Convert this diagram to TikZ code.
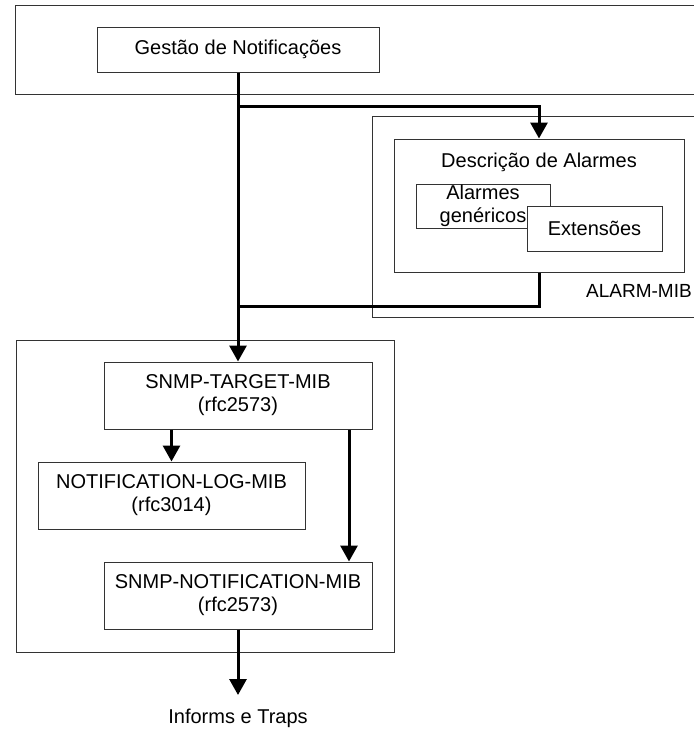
\documentclass[tikz,border=0pt]{standalone}
\usepackage{fontspec}
\setmainfont{Liberation Sans}
\usetikzlibrary{arrows.meta}
\tikzset{
  frame/.style={draw=black!80, line width=1pt},
  box/.style={draw=black!80, line width=1pt, fill=white, inner sep=0pt, align=center,
    font=\fontsize{20}{23}\selectfont},
  txt/.style={inner sep=0pt, align=center, font=\fontsize{20}{23}\selectfont},
  conn/.style={line width=3pt, -{Triangle[width=17pt,length=16pt]}},
  link/.style={line width=3pt}
}
\begin{document}
\begin{tikzpicture}[x=1pt,y=-1pt]
\path[use as bounding box] (0,0) rectangle (694,729);
\clip (0,0) rectangle (694,729);
% containers
\draw[frame] (15,5) rectangle (730,94);
\draw[frame] (372,116) rectangle (730,317);
\draw[frame] (16,340) rectangle (394,652);
% top
\node[box, minimum width=282pt, minimum height=45pt] (gestao) at (238,49.5) {Gestão de Notificações};
% alarm description
\node[box, minimum width=290pt, minimum height=133pt] (desc) at (539,205.5) {};
\node[txt] (desclabel) at (539,162) {Descrição de Alarmes};
\node[box, minimum width=134pt, minimum height=44pt] (gen) at (483,206) {Alarmes\\genéricos};
\node[box, minimum width=135pt, minimum height=45pt] (ext) at (594.5,228.5) {Extensões};
\node[txt, anchor=west, font=\fontsize{19}{22}\selectfont] (alarmmib) at (586,291) {ALARM-MIB};
% lower
\node[box, minimum width=268pt, minimum height=67pt] (target) at (238,395.5) {SNMP-TARGET-MIB\\(rfc2573)};
\node[box, minimum width=267pt, minimum height=67pt] (log) at (171.5,495.5) {NOTIFICATION-LOG-MIB\\(rfc3014)};
\node[box, minimum width=268pt, minimum height=67pt] (notif) at (238,595.5) {SNMP-NOTIFICATION-MIB\\(rfc2573)};
\node[txt, anchor=north] (info) at (238,709) {Informs e Traps};
% connectors
\coordinate (br) at (238,106);
\coordinate (ret) at (238,306);
\draw[conn] (gestao.south) -- (target.north);
\draw[conn] (br) -| (desc.north);
\draw[link] (desc.south) |- (ret);
\draw[conn] (log.north |- target.south) -- (log.north);
\draw[conn] ([xshift=111pt]target.south) -- ([xshift=111pt]notif.north);
\draw[conn] (notif.south) -- ([yshift=14pt]info.north);
\end{tikzpicture}
\end{document}
